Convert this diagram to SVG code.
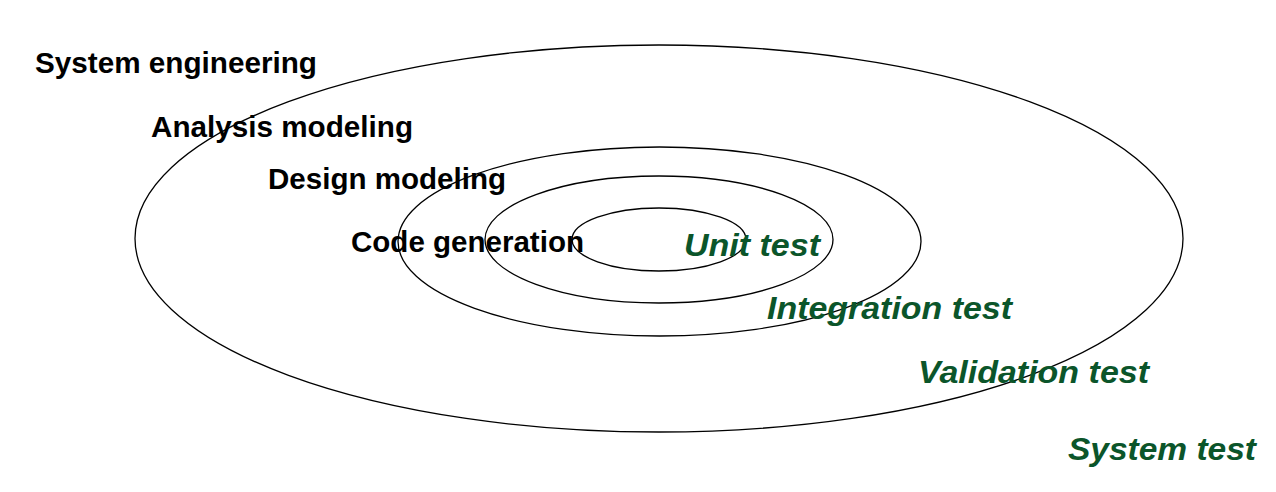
<svg xmlns="http://www.w3.org/2000/svg" width="1276" height="492" viewBox="0 0 1276 492">
<style>
.ring{fill:none;stroke:#000;stroke-width:1.3}
.lbl{font-family:"Liberation Sans",Arial,sans-serif;font-weight:bold;font-size:29px;fill:#000}
.tst{font-family:"Liberation Sans",Arial,sans-serif;font-weight:bold;font-style:italic;font-size:32px;fill:#0b552a}
</style>
<rect width="1276" height="492" fill="#fff"/>
<g id="connectors">
<ellipse id="ring-system" class="ring" cx="659" cy="238.5" rx="524" ry="193.5"/>
<ellipse id="ring-analysis" class="ring" cx="659.5" cy="241.5" rx="261.5" ry="94.5"/>
<ellipse id="ring-design" class="ring" cx="659" cy="239.5" rx="174" ry="63.5"/>
<ellipse id="ring-code" class="ring" cx="659" cy="239.5" rx="87" ry="31.5"/>
</g>
<g id="system-engineering"><text class="lbl" x="35" y="73" textLength="282" lengthAdjust="spacingAndGlyphs">System engineering</text></g>
<g id="analysis-modeling"><text class="lbl" x="151" y="137" textLength="262" lengthAdjust="spacingAndGlyphs">Analysis modeling</text></g>
<g id="design-modeling"><text class="lbl" x="268" y="189" textLength="238" lengthAdjust="spacingAndGlyphs">Design modeling</text></g>
<g id="code-generation"><text class="lbl" x="351" y="252" textLength="233" lengthAdjust="spacingAndGlyphs">Code generation</text></g>
<g id="unit-test"><text class="tst" x="684" y="256" textLength="136" lengthAdjust="spacingAndGlyphs">Unit test</text></g>
<g id="integration-test"><text class="tst" x="767" y="319" textLength="245" lengthAdjust="spacingAndGlyphs">Integration test</text></g>
<g id="validation-test"><text class="tst" x="918" y="383" textLength="231" lengthAdjust="spacingAndGlyphs">Validation test</text></g>
<g id="system-test"><text class="tst" x="1068" y="460" textLength="188" lengthAdjust="spacingAndGlyphs">System test</text></g>
</svg>
